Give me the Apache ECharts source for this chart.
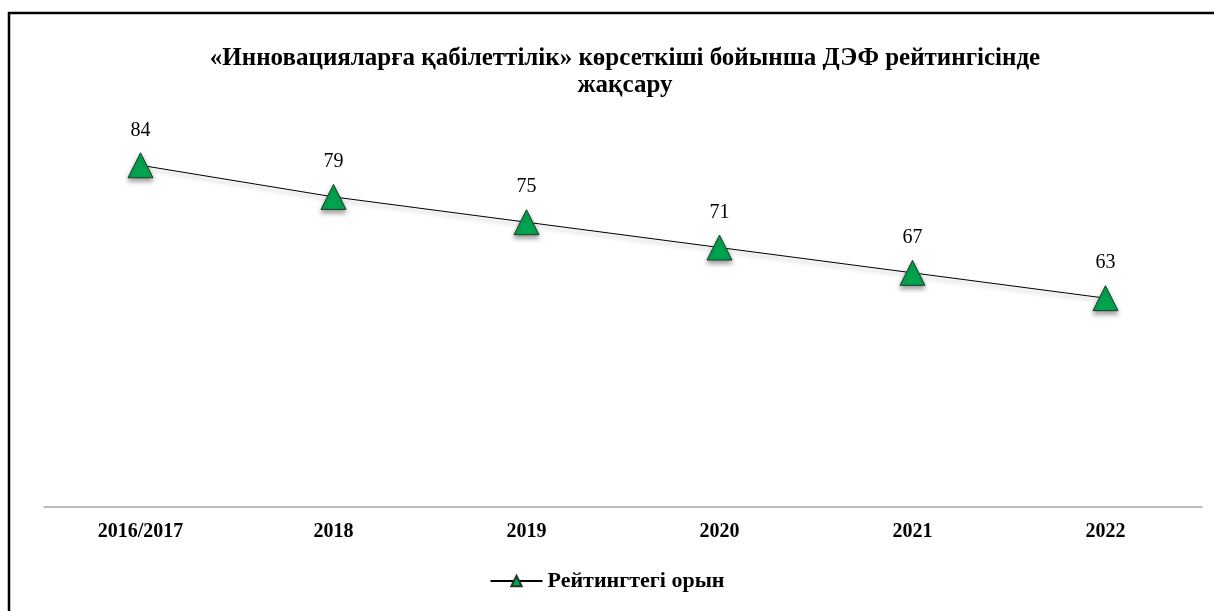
<!DOCTYPE html>
<html>
<head>
<meta charset="utf-8">
<script src="https://cdn.jsdelivr.net/npm/echarts@6/dist/echarts.min.js"></script>
<style>
  html, body { margin: 0; padding: 0; background: #fff; }
  #chart { width: 1214px; height: 611px; }
</style>
</head>
<body>
<div id="chart"></div>
<script>
const titleText = '«Инновацияларға қабілеттілік» көрсеткіші бойынша ДЭФ рейтингісінде\nжақсару'
const categories = ['2016/2017', '2018', '2019', '2020', '2021', '2022']
const seriesName = 'Рейтингтегі орын'
const ranks = [84, 79, 75, 71, 67, 63]

const serif = '"Liberation Serif", "Times New Roman", serif'

const chart = echarts.init(document.getElementById('chart'), null, { renderer: 'canvas' })

chart.setOption({
    animation: false,
    backgroundColor: '#fff',
    title: {
        text: titleText,
        left: 620,
        textAlign: 'center',
        top: 40,
        textStyle: {
            fontFamily: serif,
            fontSize: 25,
            fontWeight: 'bold',
            lineHeight: 27,
            color: '#000',
        },
    },
    // frame around the chart (top and left edges only are visible)
    graphic: [{
        type: 'polyline',
        shape: { points: [[9, 611], [9, 13], [1214, 13]] },
        style: { stroke: '#000', lineWidth: 2.5, fill: null },
        silent: true,
    }],
    legend: {
        bottom: 14,
        left: 'center',
        itemWidth: 52,
        itemHeight: 13,
        itemGap: 7,
        textStyle: { fontFamily: serif, fontSize: 22, fontWeight: 'bold', color: '#000' },
        data: [seriesName],
    },
    grid: { left: 44, right: 12, top: 64, bottom: 104, containLabel: false },
    xAxis: {
        type: 'category',
        data: categories,
        boundaryGap: true,
        axisLine: { lineStyle: { color: '#a6a6a6', width: 1.5 } },
        axisTick: { show: false },
        axisLabel: {
            margin: 15,
            fontFamily: serif,
            fontSize: 20,
            fontWeight: 'bold',
            color: '#000',
        },
    },
    yAxis: {
        type: 'value',
        min: 30,
        max: 100,
        show: false,
        splitLine: { show: false },
    },
    series: [{
        name: seriesName,
        type: 'line',
        data: ranks,
        symbol: 'triangle',
        symbolSize: 25,
        lineStyle: {
            color: '#000',
            width: 1,
            shadowColor: 'rgba(0,0,0,0.35)',
            shadowBlur: 4,
            shadowOffsetY: 3,
        },
        itemStyle: {
            color: '#00a651',
            borderColor: '#1d3b26',
            borderWidth: 1,
            shadowColor: 'rgba(0,0,0,0.4)',
            shadowBlur: 5,
            shadowOffsetY: 3,
        },
        label: {
            show: true,
            position: 'top',
            distance: 12,
            fontFamily: serif,
            fontSize: 20,
            color: '#000',
        },
    }],
})
</script>
</body>
</html>
